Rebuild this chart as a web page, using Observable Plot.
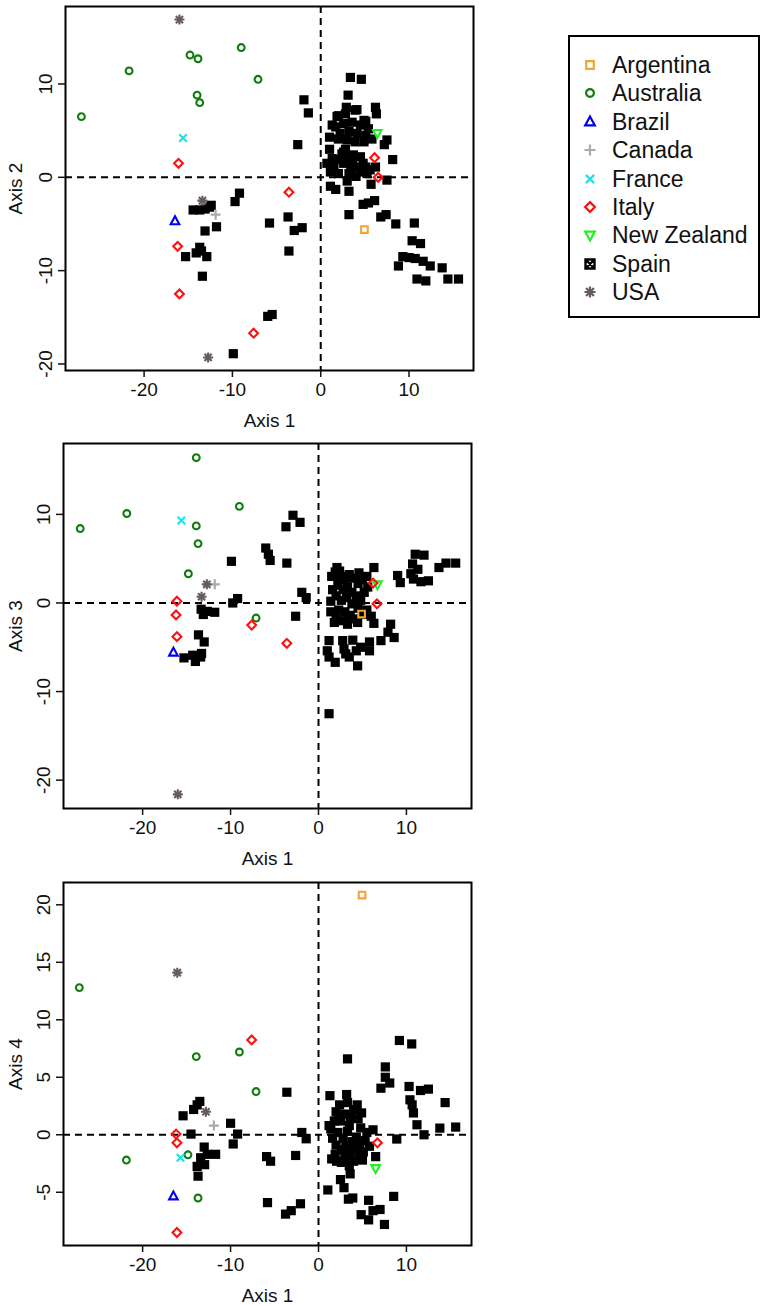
<!DOCTYPE html>
<html><head><meta charset="utf-8">
<script src="https://cdn.jsdelivr.net/npm/d3@7"></script>
<script src="https://cdn.jsdelivr.net/npm/@observablehq/plot@0.6"></script>
<style>
body{margin:0;background:#fff;font-family:"Liberation Sans",Arial,sans-serif;}
#wrap{position:relative;width:766px;height:1305px;}
.pan{position:absolute;left:0;}
#legend{position:absolute;left:568px;top:35px;width:188px;height:279px;border:2px solid #000;}
.row{position:absolute;left:0;height:28px;width:188px;}
.row svg{position:absolute;left:8px;top:2px;}
.row span{position:absolute;left:42px;top:0;line-height:28px;font-size:23px;color:#111;}
</style></head>
<body><div id="wrap"></div>
<script>
// ---------- data ----------
const countries = ["Argentina","Australia","Brazil","Canada","France","Italy","New Zealand","Spain","USA"];
const colors = ["#f4a531","#0e7d0e","#0000ee","#aaaaaa","#22e0e6","#ff1010","#22ee22","#000000","#675c5c"];
const xTicks = [-20,-10,0,10];
const yTicks12 = [-20,-10,0,10];
const yTicks13 = [-20,-10,0,10];
const yTicks14 = [-5,0,5,10,15,20];

// Axis 1 vs Axis 2: [country, axis1, axis2]
const scores12 = [
 ["Spain",-14.45,-3.5],["Spain",-13.7,-3.5],["Spain",-13.1,-3.4],["Spain",-12.6,-3.2],["Spain",-12.4,-3.0],["Spain",-9.2,-1.7],["Spain",-9.7,-2.6],
 ["Spain",-13.1,-5.75],["Spain",-11.8,-5.3],["Spain",-15.3,-8.5],["Spain",-13.7,-7.5],["Spain",-13.5,-7.9],["Spain",-14.1,-8.1],["Spain",-12.9,-8.5],
 ["Spain",-13.4,-10.6],["Spain",-5.8,-4.9],["Spain",-3.7,-4.25],["Spain",-3.0,-5.7],["Spain",-2.1,-5.4],["Spain",-3.6,-7.9],["Spain",-6.0,-14.9],
 ["Spain",-5.5,-14.7],["Spain",-9.9,-18.9],["Spain",-1.9,8.3],["Spain",-1.4,6.9],["Spain",-2.6,3.5],
 ["Spain",3.36,10.7],["Spain",4.6,10.5],["Spain",3.1,8.8],["Spain",6.2,7.5],["Spain",6.3,6.8],["Spain",2.9,7.5],["Spain",4.1,7.25],["Spain",2.0,6.6],
 ["Spain",5.1,6.0],["Spain",1.3,5.6],["Spain",1.0,4.3],["Spain",7.5,4.0],["Spain",7.2,3.5],["Spain",8.15,1.9],["Spain",7.5,-0.3],
 ["Spain",1.85,6.5],["Spain",2.8,6.8],["Spain",3.9,7.2],["Spain",4.9,6.1],["Spain",1.7,5.4],["Spain",2.6,5.75],["Spain",3.55,5.9],["Spain",4.5,5.6],
 ["Spain",5.4,5.2],["Spain",2.2,4.7],["Spain",3.2,4.9],["Spain",4.1,4.7],["Spain",5.1,4.5],["Spain",5.8,4.1],["Spain",3.0,4.0],["Spain",3.9,3.8],
 ["Spain",4.9,3.8],["Spain",2.0,4.1],
 ["Spain",2.4,2.5],["Spain",3.0,2.2],["Spain",4.5,2.2],["Spain",0.7,1.5],["Spain",1.5,1.1],["Spain",2.6,1.5],["Spain",3.6,1.6],["Spain",4.1,1.1],
 ["Spain",5.1,1.1],["Spain",1.1,0.57],["Spain",2.0,0.4],["Spain",3.2,0.4],["Spain",4.5,0.57],["Spain",5.25,0.4],["Spain",6.2,1.1],["Spain",2.6,2.7],["Spain",3.7,2.4],
 ["Spain",1.3,2.0],["Spain",2.0,1.9],["Spain",3.4,1.0],["Spain",4.8,1.5],["Spain",5.6,0.8],["Spain",2.8,3.0],["Spain",1.0,3.0],["Spain",3.0,-0.4],["Spain",4.0,0.1],
 ["Spain",1.1,-0.96],["Spain",1.7,-1.3],["Spain",3.2,-1.5],["Spain",5.7,-0.75],["Spain",3.2,-4.0],["Spain",4.8,-2.9],["Spain",5.4,-2.75],["Spain",6.1,-2.5],
 ["Spain",6.8,-4.25],["Spain",7.4,-4.0],["Spain",8.5,-5.0],["Spain",10.6,-4.9],["Spain",10.35,-6.8],["Spain",11.3,-7.1],["Spain",9.3,-8.5],["Spain",10.0,-8.6],
 ["Spain",10.7,-8.7],["Spain",11.6,-9.0],["Spain",12.4,-9.5],["Spain",8.8,-9.5],["Spain",13.75,-9.7],["Spain",10.9,-10.9],["Spain",11.9,-11.1],
 ["Spain",14.4,-10.9],["Spain",15.6,-10.9],
 ["Argentina",4.95,-5.6],
 ["Australia",-27.1,6.5],["Australia",-21.7,11.4],["Australia",-14.8,13.1],["Australia",-13.9,12.7],["Australia",-9.0,13.9],["Australia",-7.1,10.5],["Australia",-14.0,8.8],["Australia",-13.7,8.0],
 ["Brazil",-16.5,-4.7],
 ["Canada",-11.9,-4.0],
 ["France",-15.6,4.2],
 ["New Zealand",6.4,4.75],
 ["Italy",-16.1,1.5],["Italy",-3.6,-1.6],["Italy",-16.2,-7.4],["Italy",-16.0,-12.5],["Italy",-7.6,-16.7],["Italy",6.1,2.1],["Italy",6.5,0.0],
 ["USA",-16.0,16.9],["USA",-13.4,-2.5],["USA",-12.75,-19.3]
];

// Axis 1 vs Axis 3
const scores13 = [
 ["Spain",-2.9,9.9],["Spain",-2.1,9.1],["Spain",-3.7,8.6],["Spain",-6.0,6.2],["Spain",-5.7,5.5],["Spain",-5.5,4.8],["Spain",-9.9,4.7],["Spain",-3.6,4.5],
 ["Spain",-1.9,1.2],["Spain",-1.4,0.6],["Spain",-9.2,0.5],["Spain",-9.75,0.0],["Spain",-13.35,-0.7],["Spain",-12.65,-0.95],["Spain",-11.8,-1.05],
 ["Spain",-13.1,-1.3],["Spain",-2.6,-1.5],["Spain",-13.65,-3.6],["Spain",-13.0,-4.4],["Spain",-15.3,-6.2],["Spain",-14.3,-5.9],["Spain",-14.0,-6.6],
 ["Spain",-13.4,-6.1],["Spain",-13.3,-5.7],
 ["Spain",11.0,5.5],["Spain",12.0,5.4],["Spain",14.5,4.5],["Spain",15.6,4.5],["Spain",13.7,4.0],["Spain",10.7,4.4],["Spain",11.3,3.8],["Spain",10.5,3.3],
 ["Spain",9.0,3.1],["Spain",9.3,2.3],["Spain",11.65,2.4],["Spain",12.5,2.5],["Spain",10.8,2.7],["Spain",6.3,4.0],["Spain",2.1,4.0],["Spain",1.4,0.2],
 ["Spain",1.8,-2.2],["Spain",3.3,-2.4],["Spain",4.45,-2.2],["Spain",6.3,-2.3],["Spain",8.2,-2.4],["Spain",7.9,-3.3],["Spain",8.6,-3.9],["Spain",7.1,-4.25],
 ["Spain",5.8,-4.4],["Spain",1.2,-4.25],["Spain",2.75,-4.25],["Spain",3.9,-4.2],["Spain",4.8,-5.0],["Spain",1.0,-5.4],["Spain",2.9,-5.2],["Spain",4.3,-5.4],
 ["Spain",1.2,-6.1],["Spain",1.9,-6.7],["Spain",3.5,-6.1],["Spain",4.45,-7.1],["Spain",3.1,-5.75],["Spain",1.2,-12.5],["Spain",5.8,-5.4],
 ["Spain",1.9,3.5],["Spain",2.5,3.0],["Spain",3.0,2.6],["Spain",3.5,3.2],["Spain",4.0,2.8],["Spain",4.5,2.2],["Spain",5.0,2.6],["Spain",2.2,2.0],
 ["Spain",2.8,1.5],["Spain",3.3,1.8],["Spain",3.8,1.2],["Spain",4.3,0.8],["Spain",2.0,0.8],["Spain",2.6,0.3],["Spain",3.2,0.6],["Spain",3.8,-0.1],
 ["Spain",4.5,-0.6],["Spain",5.2,1.2],["Spain",5.6,1.8],["Spain",2.3,-0.8],["Spain",3.0,-1.0],["Spain",3.6,-1.4],["Spain",4.2,-1.8],["Spain",5.0,-1.3],["Spain",2.0,-1.7],
 ["Spain",1.5,3.0],["Spain",2.4,3.6],["Spain",4.6,3.4],["Spain",5.5,3.0],["Spain",1.6,1.5],["Spain",4.8,0.3],["Spain",1.4,-1.0],["Spain",2.7,-2.0],["Spain",5.5,-0.8],["Spain",6.0,-1.5],
 ["Argentina",4.9,-1.25],
 ["Australia",-13.9,16.4],["Australia",-27.1,8.4],["Australia",-21.8,10.1],["Australia",-9.0,10.9],["Australia",-13.9,8.7],["Australia",-13.7,6.7],["Australia",-14.8,3.3],["Australia",-7.1,-1.7],
 ["Brazil",-16.5,-5.6],
 ["Canada",-11.8,2.1],
 ["France",-15.6,9.3],
 ["New Zealand",6.7,2.1],
 ["Italy",-16.1,0.2],["Italy",-16.2,-1.35],["Italy",-16.1,-3.8],["Italy",-7.6,-2.5],["Italy",-3.6,-4.55],["Italy",6.65,-0.1],["Italy",6.2,2.25],
 ["USA",-12.7,2.1],["USA",-13.3,0.7],["USA",-16.0,-21.6]
];

// Axis 1 vs Axis 4
const scores14 = [
 ["Spain",-15.4,1.65],["Spain",-14.2,2.2],["Spain",-13.5,2.9],["Spain",-13.8,2.6],["Spain",-14.5,0.06],["Spain",-13.0,-1.07],["Spain",-12.65,-1.7],
 ["Spain",-11.7,-1.7],["Spain",-13.4,-2.0],["Spain",-12.95,-2.6],["Spain",-13.8,-2.75],["Spain",-13.7,-3.6],["Spain",-10.0,1.0],["Spain",-9.2,0.06],
 ["Spain",-9.7,-0.8],["Spain",-3.6,3.7],["Spain",-1.9,0.2],["Spain",-1.4,-0.35],["Spain",-2.6,-1.8],["Spain",-5.9,-1.9],["Spain",-5.45,-2.3],
 ["Spain",-5.8,-5.9],["Spain",-3.75,-6.9],["Spain",-3.1,-6.6],["Spain",-2.05,-6.0],
 ["Spain",1.3,3.4],["Spain",3.2,3.5],["Spain",1.2,0.8],["Spain",3.3,6.6],["Spain",9.2,8.2],["Spain",10.6,7.9],["Spain",7.6,5.9],["Spain",7.6,5.0],
 ["Spain",8.1,4.5],["Spain",7.1,4.05],["Spain",10.3,4.2],["Spain",11.6,3.85],["Spain",12.5,3.97],["Spain",10.4,3.04],["Spain",10.65,2.6],["Spain",10.8,1.9],
 ["Spain",11.2,0.87],["Spain",12.0,0.0],["Spain",13.8,0.58],["Spain",14.4,2.8],["Spain",15.6,0.67],["Spain",8.9,-0.37],["Spain",6.2,0.43],["Spain",6.5,-1.9],
 ["Spain",8.55,-5.36],["Spain",3.6,-3.4],["Spain",2.5,-3.9],["Spain",2.9,-4.6],["Spain",1.06,-4.8],["Spain",3.4,-5.6],["Spain",3.9,-5.5],["Spain",5.7,-5.7],
 ["Spain",4.85,-6.95],["Spain",5.7,-7.4],["Spain",6.2,-6.6],["Spain",7.0,-6.5],["Spain",7.5,-7.8],["Spain",2.05,-2.3],["Spain",1.5,-2.1],
 ["Spain",2.0,2.0],["Spain",2.5,1.2],["Spain",3.0,1.8],["Spain",3.5,0.8],["Spain",4.0,2.2],["Spain",4.5,1.4],["Spain",2.2,0.2],["Spain",2.8,-0.3],
 ["Spain",3.3,0.3],["Spain",3.8,-0.6],["Spain",4.3,-0.2],["Spain",4.8,0.6],["Spain",5.3,-0.5],["Spain",2.0,-0.9],["Spain",2.6,-1.3],["Spain",3.1,-1.0],
 ["Spain",3.6,-1.6],["Spain",4.1,-1.2],["Spain",4.6,-1.9],["Spain",5.1,-1.5],["Spain",1.6,-0.3],["Spain",1.4,0.5],["Spain",3.0,-2.0],["Spain",4.0,-2.3],
 ["Spain",5.5,0.2],["Spain",5.8,-1.0],["Spain",2.4,2.6],["Spain",3.6,1.5],["Spain",4.7,-0.8],
 ["Spain",2.3,1.5],["Spain",1.8,1.2],["Spain",4.9,1.9],["Spain",5.0,-2.2],["Spain",3.3,2.8],["Spain",1.9,-1.7],["Spain",2.6,-2.4],["Spain",3.5,-2.7],["Spain",4.4,2.6],
 ["Argentina",4.95,20.85],
 ["Australia",-27.2,12.8],["Australia",-9.0,7.2],["Australia",-13.9,6.8],["Australia",-7.1,3.76],["Australia",-21.85,-2.2],["Australia",-14.85,-1.74],["Australia",-13.7,-5.5],
 ["Brazil",-16.5,-5.36],
 ["Canada",-11.9,0.8],
 ["France",-15.7,-2.0],
 ["New Zealand",6.5,-2.9],
 ["Italy",-7.6,8.25],["Italy",-16.2,0.06],["Italy",-16.1,-0.7],["Italy",-16.1,-8.5],["Italy",6.7,-0.7],
 ["USA",-16.06,14.1],["USA",-12.8,2.0]
];

// ---------- symbols ----------
const R = s => Math.sqrt(s / Math.PI);
const symbols = {
  "Argentina": {draw(c,s){const r=R(s); c.rect(-r,-r,2*r,2*r);}},
  "Australia": {draw(c,s){const r=R(s); c.moveTo(r,0); c.arc(0,0,r,0,2*Math.PI);}},
  "Brazil": {draw(c,s){const r=R(s); c.moveTo(0,-r*1.15); c.lineTo(r,r*0.7); c.lineTo(-r,r*0.7); c.closePath();}},
  "Canada": {draw(c,s){const r=R(s); c.moveTo(-r,0); c.lineTo(r,0); c.moveTo(0,-r); c.lineTo(0,r);}},
  "France": {draw(c,s){const r=R(s)*0.75; c.moveTo(-r,-r); c.lineTo(r,r); c.moveTo(-r,r); c.lineTo(r,-r);}},
  "Italy": {draw(c,s){const r=R(s); c.moveTo(0,-r); c.lineTo(r,0); c.lineTo(0,r); c.lineTo(-r,0); c.closePath();}},
  "New Zealand": {draw(c,s){const r=R(s); c.moveTo(0,r*1.15); c.lineTo(r,-r*0.7); c.lineTo(-r,-r*0.7); c.closePath();}},
  "Spain": {draw(c,s){const r=R(s); c.rect(-r,-r,2*r,2*r);}},
  "USA": {draw(c,s){const r=R(s), q=r*0.72; c.moveTo(-r,0); c.lineTo(r,0); c.moveTo(0,-r); c.lineTo(0,r); c.moveTo(-q,-q); c.lineTo(q,q); c.moveTo(-q,q); c.lineTo(q,-q);}}
};
const legendSpain = {draw(c,s){const r=R(s); c.rect(-r,-r,2*r,2*r); c.moveTo(-r,-r); c.lineTo(r,r); c.moveTo(-r,r); c.lineTo(r,-r);}};
const sizes = {"Argentina":3.3,"Australia":3.4,"Brazil":4.3,"Canada":5,"France":5,"Italy":4.4,"New Zealand":4.3,"Spain":4.6,"USA":5};
const filled = {"Spain":true};
const order = ["Spain","Argentina","Australia","Brazil","Canada","France","New Zealand","Italy","USA"];

function panel(data, yDomain, yTicks, yLabel, ml, mr, xDomain, height) {
  const marks = [
    Plot.ruleX([0], {stroke:"#000", strokeWidth:2, strokeDasharray:"7,5"}),
    Plot.ruleY([0], {stroke:"#000", strokeWidth:2, strokeDasharray:"7,5"}),
  ];
  for (const c of order) {
    const col = colors[countries.indexOf(c)];
    marks.push(Plot.dot(data.filter(d => d[0] === c), {
      x: d => d[1], y: d => d[2], symbol: symbols[c], r: sizes[c],
      fill: filled[c] ? col : "none", stroke: filled[c] ? "none" : col,
      strokeWidth: c === "Canada" ? 2.2 : 2.1
    }));
  }
  marks.push(Plot.frame({stroke:"#000", strokeWidth:2}));
  marks.push(Plot.axisX(xTicks, {tickSize:7, tickPadding:5, strokeWidth:1.5, tickFormat: d => String(d),
    label:"Axis 1", labelAnchor:"center", labelOffset:56, labelArrow:"none", fontSize:19}));
  marks.push(Plot.axisY(yTicks, {tickSize:7, tickRotate:-90, tickPadding:7, strokeWidth:1.5, tickFormat: d => String(d),
    label:yLabel, labelAnchor:"center", labelOffset: ml - 8, labelArrow:"none", fontSize:19}));
  return Plot.plot({
    width: 490, height, marginLeft: ml, marginRight: mr, marginTop: 6, marginBottom: 60,
    x: {domain: xDomain}, y: {domain: yDomain},
    style: {fontFamily: '"Liberation Sans", Arial, sans-serif', fontSize: "19px", color: "#111", background: "transparent", overflow: "visible"},
    marks
  });
}

const wrap = document.getElementById("wrap");
const panels = [
  [panel(scores12, [-20.7, 18.3], yTicks12, "Axis 2", 65, 17, [-28.9, 17.3], 430), 0],
  [panel(scores13, [-23.2, 18.0], yTicks13, "Axis 3", 63, 19, [-29.0, 17.4], 431), 437],
  [panel(scores14, [-9.63, 21.94], yTicks14, "Axis 4", 63, 19, [-29.0, 17.4], 429), 876]
];
for (const [svg, top] of panels) {
  svg.classList.add("pan");
  svg.style.top = top + "px";
  wrap.appendChild(svg);
}

// legend
const leg = document.createElement("div");
leg.id = "legend";
countries.forEach((c, i) => {
  const row = document.createElement("div");
  row.className = "row";
  row.style.top = (14 + i * 28.4) + "px";
  const col = colors[i];
  const sym = c === "Spain" ? legendSpain : symbols[c];
  const rr = c === "Spain" ? 4.5 : sizes[c] + 0.5;
  const path = d3.symbol().type(sym).size(Math.PI * rr * rr)();
  const isSp = c === "Spain";
  row.innerHTML = `<svg width="24" height="24" viewBox="-12 -12 24 24"><path d="${path}" fill="none" stroke="${col}" stroke-width="${isSp ? 2.4 : 2.2}"/></svg><span>${c}</span>`;
  leg.appendChild(row);
});
wrap.appendChild(leg);
</script>
</body></html>
